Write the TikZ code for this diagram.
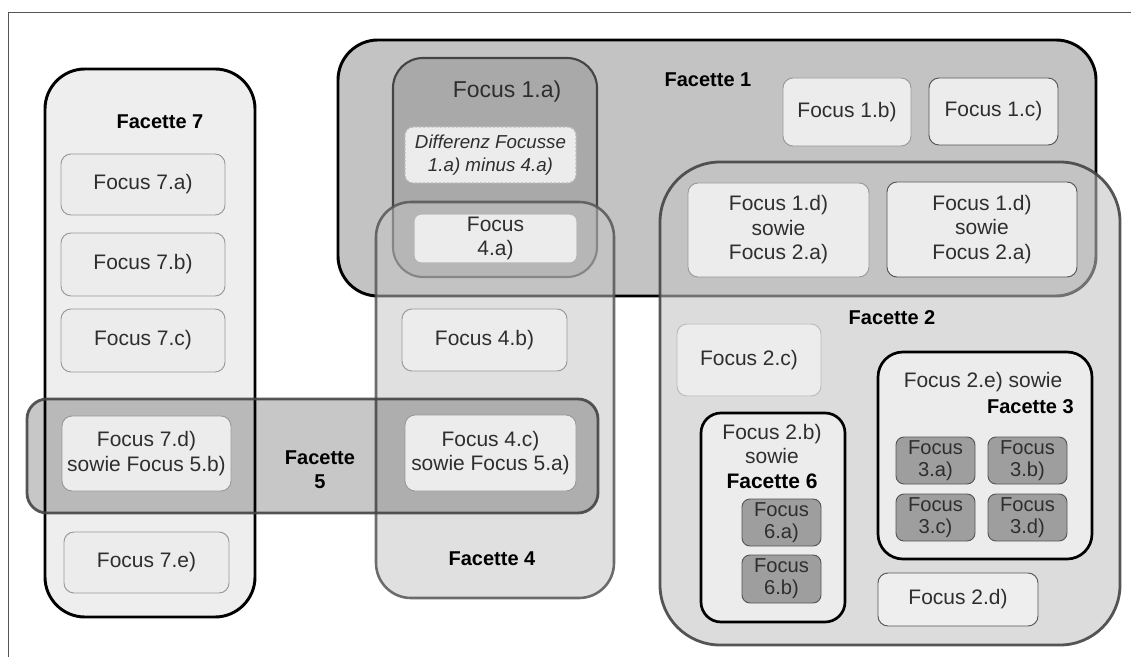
\documentclass[tikz,border=0pt]{standalone}
\usepackage{fontspec}
\setmainfont{Liberation Sans}
\definecolor{cF7}{HTML}{EEEEEE}
\definecolor{cF1}{HTML}{C3C3C3}
\definecolor{cA}{HTML}{A9A9A9}
\definecolor{cBox}{HTML}{ECECEC}
\definecolor{cDark}{HTML}{9E9E9E}
\definecolor{c33}{HTML}{2E2E2E}
\definecolor{c44}{HTML}{444444}
\definecolor{c55}{HTML}{555555}
\definecolor{c99}{HTML}{999999}
\definecolor{cBB}{HTML}{BBBBBB}
\tikzset{
  txt/.style={font=\fontsize{17.9}{20.9}\selectfont, text=c33, align=center, inner sep=0pt},
  smalltxt/.style={font=\fontsize{17.2}{18.8}\selectfont, text=c33, align=center, inner sep=0pt},
  lbl/.style={font=\fontsize{17.07}{20}\selectfont\bfseries, text=black, align=center, inner sep=0pt},
  lightbox/.style={fill=cBox, draw=c99, line width=0.8pt, rounded corners=0.3cm},
  darkbox/.style={fill=cDark, draw=c55, line width=0.8pt, rounded corners=0.24cm},
  bigcont/.style={line width=2.5pt, rounded corners=1.2cm},
}
\begin{document}
\begin{tikzpicture}[x=0.03cm, y=-0.03cm]
\useasboundingbox (0,0) rectangle (1132,657);
% frame
\coordinate (frA) at (8,657);
\coordinate (frB) at (8,12);
\coordinate (frC) at (1131,12);
\draw[c55, line width=0.8pt] (frA) -- (frB) -- (frC);

% Facette 7
\draw[bigcont, fill=cF7, draw=black] (45,69) rectangle (255,617);
% Facette 1
\draw[bigcont, fill=cF1, draw=black] (338,40) rectangle (1096,296);
% Focus 1.a) container
\draw[fill=cA, draw=c44, line width=1.8pt, rounded corners=0.9cm] (393,58) rectangle (597,277);
% Facette 4 (semi-transparent)
\draw[fill=cF1, fill opacity=0.52, draw=c55, draw opacity=0.85, line width=2.2pt, rounded corners=1.05cm] (376,202) rectangle (614,598);
% Differenz box
\draw[fill=cBox, draw=cBB, line width=0.9pt, dash pattern=on 2pt off 1.5pt, rounded corners=0.25cm] (405,127) rectangle (576,183);
% Focus 4.a)
\draw[fill=cBox, draw=cBox, line width=0.6pt, rounded corners=0.2cm] (415,215) rectangle (576,262);
% Facette 2 (semi-transparent)
\draw[fill=cF1, fill opacity=0.58, draw=c44, draw opacity=0.9, line width=2.4pt, rounded corners=1.8cm] (660,162) rectangle (1120,645);
% boxes in Facette 1 / 2
\draw[lightbox] (783,78) rectangle (911,146);
\draw[lightbox, draw=c55] (929,78) rectangle (1058,145);
\draw[lightbox] (688,183) rectangle (869,277);
\draw[lightbox, draw=c55] (887,182) rectangle (1077,277);
\draw[lightbox, draw=cBB] (677,324) rectangle (821,396);
\draw[lightbox, fill=cF7, draw=c55] (878,573) rectangle (1038,626);
% Facette 6 container
\draw[fill=cBox, draw=black, line width=2.3pt, rounded corners=0.6cm] (701,413) rectangle (845,622);
\draw[darkbox] (742,499) rectangle (821,546);
\draw[darkbox] (742,555) rectangle (821,603);
% Facette 3 container
\draw[fill=cBox, draw=black, line width=2.3pt, rounded corners=0.75cm] (878,352) rectangle (1092,559);
\draw[darkbox] (896,437) rectangle (975,484);
\draw[darkbox] (988,437) rectangle (1067,484);
\draw[darkbox] (896,494) rectangle (975,541);
\draw[darkbox] (988,494) rectangle (1067,541);
% Facette 7 boxes
\draw[lightbox] (61,154) rectangle (225,215);
\draw[lightbox] (61,233) rectangle (225,296);
\draw[lightbox] (61,309) rectangle (225,372);
\draw[lightbox] (64,532) rectangle (229,593);
% Facette 4 box
\draw[lightbox] (402,309) rectangle (567,371);
% Facette 5 (semi-transparent)
\draw[fill=black, fill opacity=0.22, draw=c44, draw opacity=0.9, line width=2.4pt, rounded corners=0.6cm] (27,399) rectangle (598,513);
% boxes on Facette 5
\draw[lightbox] (62,416) rectangle (231,491);
\draw[lightbox] (405,415) rectangle (576,491);

% texts
\node[lbl] (t7) at (160,122) {Facette 7};
\node[txt] (f7a) at (143,184.5) {Focus 7.a)};
\node[txt] (f7b) at (143,264.5) {Focus 7.b)};
\node[txt] (f7c) at (143,340.5) {Focus 7.c)};
\node[txt] (f7d) at (146.5,453.5) {Focus 7.d)\\sowie Focus 5.b)};
\node[txt] (f7e) at (146.5,562.5) {Focus 7.e)};
\node[lbl] (t5) at (320,469.5) {Facette\\5};
\node[lbl] (t4) at (492,559) {Facette 4};
\node[txt] (f4b) at (484.5,340) {Focus 4.b)};
\node[txt] (f4c) at (490.5,453) {Focus 4.c)\\sowie Focus 5.a)};
\node[lbl] (t1) at (708,80) {Facette 1};
\node[txt, font=\fontsize{19.6}{22}\selectfont] (f1a) at (507,92) {Focus 1.a)};
\node[txt, font=\fontsize{16}{20.2}\selectfont\itshape] (diff) at (490.5,155) {Differenz Focusse\\1.a) minus 4.a)};
\node[txt] (f4a) at (495.5,238.5) {Focus\\4.a)};
\node[txt] (f1b) at (847,112) {Focus 1.b)};
\node[txt] (f1c) at (993.5,111.5) {Focus 1.c)};
\node[txt] (f1dL) at (778.5,230) {Focus 1.d)\\sowie\\Focus 2.a)};
\node[txt] (f1dR) at (982,229.5) {Focus 1.d)\\sowie\\Focus 2.a)};
\node[lbl] (t2) at (892,318) {Facette 2};
\node[txt] (f2c) at (749,360) {Focus 2.c)};
\node[txt, font=\fontsize{17.9}{20.9}\selectfont] (f2b) at (772,456.5) {Focus 2.b)\\sowie\\\textbf{\color{black}Facette 6}};
\node[smalltxt] (f6a) at (781.5,522.5) {Focus\\6.a)};
\node[smalltxt] (f6b) at (781.5,579) {Focus\\6.b)};
\node[txt] (f2e) at (983,382) {Focus 2.e) sowie};
\node[lbl, anchor=east] (t3) at (1074,407) {Facette 3};
\node[smalltxt] (f3a) at (935.5,460.5) {Focus\\3.a)};
\node[smalltxt] (f3b) at (1027.5,460.5) {Focus\\3.b)};
\node[smalltxt] (f3c) at (935.5,517.5) {Focus\\3.c)};
\node[smalltxt] (f3d) at (1027.5,517.5) {Focus\\3.d)};
\node[txt] (f2d) at (958,599.5) {Focus 2.d)};
\end{tikzpicture}
\end{document}
